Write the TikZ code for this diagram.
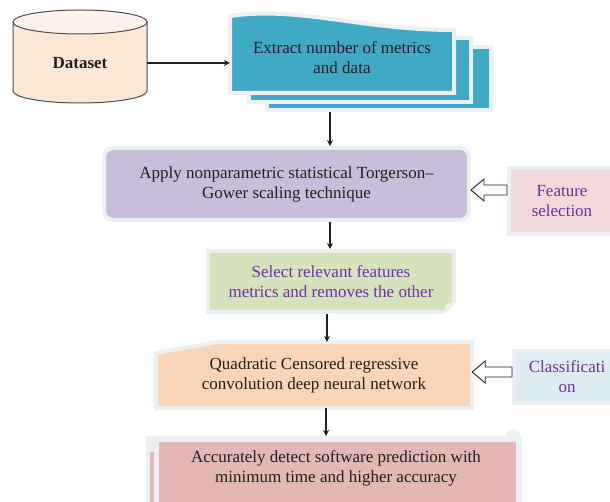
\documentclass[tikz,border=0pt]{standalone}
\usepackage{fontspec}
\setmainfont{Liberation Serif}
\usetikzlibrary{arrows.meta,calc}
\definecolor{ink}{RGB}{35,31,32}
\definecolor{plum}{RGB}{112,48,160}
\definecolor{rim}{RGB}{236,240,242}
\definecolor{dsfill}{RGB}{252,232,215}
\definecolor{dstop}{RGB}{253,243,236}
\definecolor{exfill}{RGB}{64,170,196}
\definecolor{apfill}{RGB}{200,190,218}
\definecolor{fsfill}{RGB}{242,218,220}
\definecolor{slfill}{RGB}{214,226,188}
\definecolor{qcfill}{RGB}{250,212,182}
\definecolor{clfill}{RGB}{220,238,244}
\definecolor{acfill}{RGB}{228,182,182}
% hollow arrow from #1 (tail) to #2 (tip)
\newcommand{\openarrow}[2]{%
  \draw[hollow] ($(#1)+(0,-5)$) -- ($(#2)+(13,-5)$) -- ($(#2)+(13,-11)$) -- (#2)
    -- ($(#2)+(13,11)$) -- ($(#2)+(13,5)$) -- ($(#1)+(0,5)$) -- cycle;}

\begin{document}
\begin{tikzpicture}[x=1pt,y=-1pt,
  txt/.style={font=\fontsize{17}{20}\selectfont,align=center,text=ink},
  pane/.style={draw=rim,line width=4pt},
  link/.style={-{Stealth[length=6pt,width=6pt,inset=2pt]},line width=1.2pt,draw=ink},
  hollow/.style={draw=ink,fill=white,line width=0.9pt,line join=miter}]
\useasboundingbox (0,0) rectangle (610,502);

% dataset
\filldraw[fill=dsfill,draw=ink!80,line width=1pt] (13,22) -- (13,91) arc[start angle=180,end angle=0,x radius=67,y radius=12] -- (147,22) -- cycle;
\filldraw[fill=dstop,draw=ink!80,line width=1pt] (80,22) ellipse[x radius=67,y radius=12];
\node[txt,font=\fontsize{17}{20}\selectfont\bfseries,minimum width=134pt,minimum height=60pt] (data) at (80,63) {Dataset};

% extract (stack of sheets)
\path[pane,fill=exfill] (267,47) rectangle (491,110);
\path[pane,fill=exfill] (249,38) rectangle (471,102);
\path[pane,fill=exfill] (230,16) .. controls (300,6) and (360,30) .. (454,30) -- (454,93) -- (230,93) -- cycle;
\node[txt,minimum width=224pt,minimum height=60pt] (extract) at (342,58) {Extract number of metrics\\and data};
\coordinate (stack) at (330,112);

% apply
\node[txt,pane,fill=apfill,rounded corners=9pt,minimum width=365pt,minimum height=72pt] (apply) at (286.5,184) {Apply nonparametric statistical Torgerson--\\Gower scaling technique};
\node[txt,pane,fill=fsfill,text=plum,minimum width=106pt,minimum height=66pt] (feat) at (562,201) {Feature\\selection};
\coordinate (fsrow) at (0,190);

% select
\node[txt,pane,fill=slfill,text=plum,minimum width=246pt,minimum height=61pt] (select) at (331,281.5) {Select relevant features\\metrics and removes the other};
\fill[white] ($(select.south east)+(-12,0)$) -- ($(select.south east)+(0,-12)$) -- (select.south east) -- cycle;
\fill[rim] ($(select.south east)+(-12,0)$) -- ($(select.south east)+(0,-12)$) -- ($(select.south east)+(-10,-10)$) -- cycle;

% quadratic
\path[pane,fill=qcfill] (156,353) -- (217,342) -- (472,342) -- (472,408) -- (156,408) -- cycle;
\node[txt,minimum width=316pt,minimum height=66pt] (quad) at (314,375) {Quadratic Censored regressive\\convolution deep neural network};
\node[txt,pane,fill=clfill,text=plum,minimum width=106pt,minimum height=52pt] (cls) at (567,377) {Classificati\\on};
\coordinate (clrow) at (0,372);

% accurately
\fill[rim] (146,436) rectangle (522,510);
\fill[rim] (513,436) circle (7);
\fill[acfill] (150,452) rectangle (154,510);
\fill[acfill] (159,442) rectangle (516,510);
\node[txt,minimum width=357pt] (acc) at (336,468) {Accurately detect software prediction with\\minimum time and higher accuracy};
\coordinate (acctop) at (0,436);

% connectors
\draw[link] (data.east) -- (data.east -| extract.west);
\draw[link] (stack) -- (stack |- apply.north);
\draw[link] (apply.south -| stack) -- (select.north -| stack);
\draw[link] (select.south -| 327,0) -- (quad.north -| 327,0);
\draw[link] (quad.south -| 326,0) -- (acctop -| 326,0);
\openarrow{feat.west |- fsrow}{apply.east |- fsrow}
\openarrow{cls.west |- clrow}{quad.east |- clrow}
\end{tikzpicture}
\end{document}
